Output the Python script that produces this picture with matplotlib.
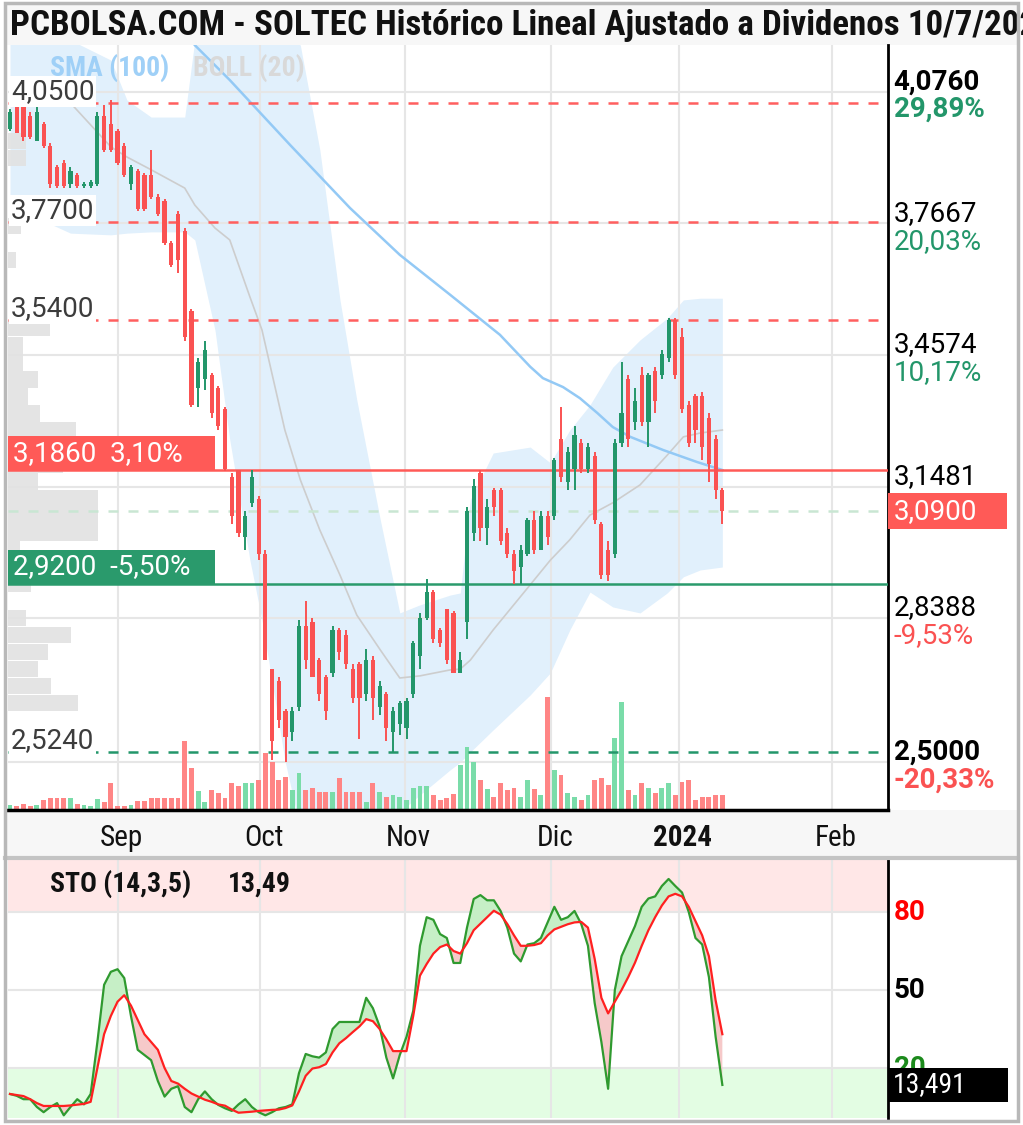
import matplotlib
matplotlib.use("Agg")
import matplotlib.pyplot as plt
from matplotlib import font_manager
from matplotlib.patches import Rectangle
import numpy as np

plt.rcParams['font.family'] = ['Roboto', 'DejaVu Sans']

# fuente estrecha (si la hay) para titulo, meses y STO
instaladas = {f.name for f in font_manager.fontManager.ttflist}
NARROW = [n for n in ['Roboto Condensed', 'Liberation Sans Narrow'] if n in instaladas] + ['Roboto', 'DejaVu Sans']

# ---------------- datos (indice = sesion) ----------------
opens = [3.99, 4.04, 4.04, 4.02, 3.96, 4.00, 3.95, 3.90, 3.91, 3.86,
         3.88, 3.855, 3.855, 3.86, 4.02, 4.00, 3.985, 3.95, 3.86, 3.89,
         3.88, 3.88, 3.83, 3.82, 3.72, 3.79, 3.75, 3.56, 3.38, 3.40,
         3.41, 3.38, 3.33, 3.17, 3.186, 3.03, 3.11, 3.12, 2.99, 2.72,
         2.69, 2.62, 2.57, 2.63, 2.82, 2.83, 2.74, 2.70, 2.71, 2.81,
         2.80, 2.72, 2.73, 2.66, 2.74, 2.63, 2.66, 2.57, 2.59, 2.58,
         2.66, 2.75, 2.84, 2.90, 2.81, 2.86, 2.85, 2.71, 2.83, 3.04,
         3.18, 3.05, 3.14, 3.14, 3.04, 2.99, 2.96, 2.99, 3.07, 3.00,
         3.08, 3.08, 3.26, 3.16, 3.19, 3.25, 3.19, 3.22, 3.06, 3.00,
         2.99, 3.25, 3.40, 3.30, 3.41, 3.30, 3.42, 3.41, 3.45, 3.54,
         3.50, 3.34, 3.36, 3.36, 3.31, 3.26, 3.14]
highs = [4.035, 4.045, 4.045, 4.03, 4.04, 4.005, 3.955, 3.905, 3.915, 3.90,
         3.885, 3.865, 3.87, 4.03, 4.045, 4.057, 3.99, 3.955, 3.905, 3.895,
         3.885, 3.94, 3.835, 3.825, 3.725, 3.795, 3.755, 3.565, 3.45, 3.49,
         3.415, 3.385, 3.335, 3.18, 3.186, 3.09, 3.186, 3.125, 3.00, 2.72,
         2.70, 2.625, 2.63, 2.835, 2.88, 2.84, 2.745, 2.705, 2.82, 2.815,
         2.81, 2.73, 2.735, 2.765, 2.75, 2.69, 2.665, 2.63, 2.645, 2.65,
         2.785, 2.85, 2.93, 2.905, 2.815, 2.86, 2.855, 2.76, 3.10, 3.165,
         3.186, 3.12, 3.145, 3.145, 3.05, 3.00, 3.01, 3.075, 3.09, 3.09,
         3.09, 3.215, 3.335, 3.24, 3.29, 3.26, 3.25, 3.23, 3.065, 3.02,
         3.26, 3.44, 3.41, 3.38, 3.43, 3.415, 3.43, 3.47, 3.545, 3.545,
         3.52, 3.35, 3.365, 3.37, 3.32, 3.27, 3.145]
lows = [3.985, 3.98, 3.96, 3.965, 3.96, 3.945, 3.85, 3.85, 3.85, 3.85,
        3.85, 3.85, 3.85, 3.855, 3.935, 3.935, 3.905, 3.875, 3.845, 3.795,
        3.795, 3.825, 3.785, 3.715, 3.665, 3.65, 3.49, 3.335, 3.335, 3.375,
        3.31, 3.28, 3.185, 3.06, 3.03, 3.00, 3.10, 2.975, 2.74, 2.505,
        2.58, 2.50, 2.55, 2.62, 2.72, 2.70, 2.645, 2.60, 2.70, 2.74,
        2.72, 2.64, 2.555, 2.645, 2.60, 2.61, 2.55, 2.524, 2.565, 2.555,
        2.65, 2.72, 2.835, 2.78, 2.77, 2.73, 2.71, 2.71, 2.79, 3.02,
        3.02, 3.01, 3.08, 3.01, 2.98, 2.92, 2.92, 2.985, 2.99, 3.00,
        3.01, 3.07, 3.16, 3.14, 3.14, 3.18, 3.18, 3.06, 2.93, 2.925,
        2.98, 3.24, 3.24, 3.28, 3.29, 3.24, 3.32, 3.40, 3.44, 3.40,
        3.32, 3.24, 3.25, 3.21, 3.16, 3.12, 3.06]
closes = [4.03, 3.98, 3.97, 3.97, 4.03, 3.95, 3.86, 3.855, 3.855, 3.89,
          3.855, 3.86, 3.865, 4.02, 3.94, 3.94, 3.91, 3.88, 3.90, 3.80,
          3.80, 3.83, 3.79, 3.72, 3.67, 3.68, 3.50, 3.34, 3.44, 3.47,
          3.32, 3.29, 3.19, 3.08, 3.04, 3.08, 3.17, 2.99, 2.74, 2.55,
          2.60, 2.56, 2.62, 2.82, 2.74, 2.70, 2.66, 2.62, 2.81, 2.76,
          2.73, 2.65, 2.65, 2.74, 2.65, 2.68, 2.58, 2.62, 2.64, 2.645,
          2.78, 2.84, 2.90, 2.79, 2.78, 2.74, 2.71, 2.74, 3.09, 3.15,
          3.05, 3.10, 3.10, 3.02, 2.99, 2.95, 3.00, 3.07, 3.00, 3.08,
          3.03, 3.21, 3.17, 3.23, 3.27, 3.19, 3.24, 3.07, 2.94, 2.94,
          3.25, 3.32, 3.26, 3.35, 3.30, 3.41, 3.35, 3.46, 3.54, 3.41,
          3.33, 3.25, 3.28, 3.24, 3.20, 3.14, 3.09]
volumes = [5, 4, 6, 4, 5, 10, 12, 12, 12, 12, 6, 5, 4, 11, 8, 27, 4, 4, 5, 9,
           9, 12, 12, 12, 12, 12, 69, 42, 19, 8, 20, 17, 12, 27, 24, 27, 27, 30, 57, 48,
           30, 33, 20, 37, 20, 22, 18, 18, 18, 32, 18, 18, 18, 8, 27, 18, 13, 15, 13, 10,
           22, 24, 24, 15, 10, 12, 16, 45, 63, 48, 30, 21, 13, 27, 20, 22, 13, 30, 21, 15,
           113, 40, 35, 17, 13, 10, 15, 30, 32, 25, 72, 108, 20, 15, 27, 22, 17, 22, 27, 15,
           28, 30, 10, 13, 13, 15, 15]

# Bollinger (20) y SMA (100)
bb_idx = [0, 3, 9, 15, 17.4, 21, 26, 27.5, 30.5, 32.7, 35.7, 37.5, 40.9, 43.2, 46.1, 49.1, 51.6,
          55.1, 58, 61, 65.5, 67, 68.5, 71.9, 77.4, 80.4, 83.3, 86.3, 89.7, 93.75, 97.8, 100.2, 102.7, 106]
bb_up = [4.198, 4.198, 4.198, 4.151, 4.057, 4.017, 4.017, 4.198, 4.245, 4.269, 4.269, 4.245, 4.222,
         4.186, 3.940, 3.587, 3.352, 3.070, 2.851, 2.870, 2.893, 2.898, 3.117, 3.227, 3.241, 3.204,
         3.281, 3.340, 3.429, 3.493, 3.544, 3.587, 3.591, 3.591]
bb_mid = [4.064, 4.057, 4.050, 3.947, 3.923, 3.893, 3.850, 3.810, 3.756, 3.728, 3.594, 3.516, 3.281,
          3.164, 3.046, 2.940, 2.846, 2.764, 2.698, 2.703, 2.717, 2.719, 2.740, 2.811, 2.917, 2.975,
          3.023, 3.081, 3.110, 3.152, 3.222, 3.265, 3.274, 3.281]
bb_lo = [3.822, 3.787, 3.744, 3.740, 3.744, 3.747, 3.747, 3.728, 3.516, 3.258, 2.975, 2.834, 2.505,
         2.341, 2.223, 2.223, 2.270, 2.341, 2.383, 2.423, 2.482, 2.500, 2.524, 2.576, 2.658, 2.710,
         2.811, 2.900, 2.865, 2.851, 2.898, 2.936, 2.952, 2.959]
sma_idx = [23.8, 27.5, 32.7, 41.7, 50.6, 58, 65.5, 72.9, 77.4, 79.3, 82.3, 84.8, 87.4, 89.7, 92.3, 97.2, 102.2, 106]
sma_val = [4.269, 4.186, 4.104, 3.951, 3.803, 3.693, 3.599, 3.505, 3.430, 3.403, 3.382, 3.356, 3.321,
           3.288, 3.265, 3.234, 3.206, 3.187]

# perfil de volumen (precio, volumen relativo)
prof_price = [2.64, 2.68, 2.72, 2.76, 2.80, 2.84, 2.92, 3.00, 3.04, 3.08, 3.12, 3.16, 3.20, 3.24,
              3.28, 3.32, 3.36, 3.40, 3.44, 3.48, 3.52, 3.68, 3.76, 3.92, 3.96]
prof_vol = [70, 43, 30, 40, 63, 18, 23, 12, 90, 90, 90, 30, 55, 70, 68, 32, 20, 30, 15, 15, 42, 8, 13, 18, 18]

# estocastico (14,3,5)
sto_k = [10, 9.3, 8, 8, 5, 3, 5, 6.5, 1.8, 5, 8, 6, 10, 30, 52, 57, 58, 54.6, 40, 27,
         25, 23, 15, 9, 12, 13, 5, 3, 8, 11, 8, 5.8, 4.5, 3.5, 6, 8, 5, 3, 1.8, 3,
         4.5, 5, 6, 18, 25.4, 24.5, 24, 26, 35, 37.7, 37.7, 37.7, 37.7, 47, 43, 36, 24, 16, 25, 32,
         42, 67, 78, 77, 71.5, 70, 60.4, 60.4, 74, 85, 86.5, 84.5, 84.5, 80.4, 74, 64, 61, 67.5, 68, 70,
         76, 82, 77, 78, 80.4, 75.4, 67, 45, 30, 12, 50, 63, 68.8, 74.6, 82, 85.2, 86, 90, 92.7, 90,
         87.5, 80, 70, 67.5, 55, 32, 13.49]
sto_d = [10, 9.6, 9.2, 8, 6.5, 5.4, 5.4, 5.4, 5.4, 5.6, 5.9, 6.2, 7, 20, 33, 40, 45.5, 48, 44, 38.5,
         33, 30, 27, 20, 15, 14, 12, 10.2, 9, 7.8, 7, 6, 5.5, 4, 2.8, 3, 3.2, 3.5, 3.7, 3.9,
         4, 4.6, 5.6, 11, 17, 19.8, 20.3, 21.5, 26, 29.5, 31.5, 33.8, 36, 38.8, 38, 35, 31, 26.5, 26.5, 26.5,
         40, 55.5, 60, 64, 66.5, 67.5, 65, 64, 68, 73, 75.5, 78, 80.5, 79, 75.4, 71, 67, 67, 67.3, 68,
         71, 73.3, 74.3, 75.3, 76, 76.2, 74, 62, 47, 41, 45.5, 50, 55, 60.5, 67, 73, 78, 82.5, 86, 87,
         86, 82, 76.5, 71, 63, 46, 33]

month_pos = [16.07, 37.2, 58.78, 80.51, 99.55, 122.32]
month_lab = ['Sep', 'Oct', 'Nov', 'Dic', '2024', 'Feb']

grid_levels = [4.0760, 3.7667, 3.4574, 3.1481, 2.8388, 2.5000]
grid_text = ['4,0760', '3,7667', '3,4574', '3,1481', '2,8388', '2,5000']
grid_pct = ['29,89%', '20,03%', '10,17%', '0,32%', '-9,53%', '-20,33%']
grid_bold = [True, False, False, False, False, True]

res_levels = [4.05, 3.77, 3.54]
res_text = ['4,0500', '3,7700', '3,5400']
sup_level, sup_text = 2.524, '2,5240'
stop_hi, stop_hi_text = 3.186, '3,1860  3,10%'
stop_lo, stop_lo_text = 2.92, '2,9200  -5,50%'
last_price, last_text = 3.09, '3,0900'
sto_last_text = '13,491'

RED = '#fa5252'
GREEN = '#23966a'
W, H = 1023, 1125
X0, X1 = -0.3, 130.65
Y0, Y1 = 2.3876, 4.1864


def fx(px):
    return px / W


def fy(py):
    return 1 - py / H


fig = plt.figure(figsize=(W / 100, H / 100), dpi=100)
fig.patch.set_facecolor('white')

# bandas de fondo (titulo y eje de fechas), por debajo de los ejes
fig.patches.append(Rectangle((fx(5), fy(45)), fx(1018) - fx(5), 42 / H, transform=fig.transFigure,
                             fc='#f7f7f7', ec='none', zorder=-10))
fig.patches.append(Rectangle((fx(5), fy(857)), fx(1018) - fx(5), 47 / H, transform=fig.transFigure,
                             fc='#f7f7f7', ec='none', zorder=-10))

rect = [fx(8), fy(810), 880 / W, 765 / H]

# --- capa base: rejilla, Bollinger, SMA ---
ax = fig.add_axes(rect)
ax.set_xlim(X0, X1)
ax.set_ylim(Y0, Y1)
ax.set_xticks(month_pos)
ax.set_yticks(grid_levels)
ax.tick_params(length=0, labelleft=False, labelbottom=False)
ax.grid(color='#e6e6e6', lw=1.5)
for s in ax.spines.values():
    s.set_visible(False)
ax.fill_between(bb_idx, bb_lo, bb_up, color='#e1f0fc', lw=0, zorder=1)
ax.plot(bb_idx, bb_mid, color='#cdcdcd', lw=1.2, zorder=2)
ax.plot(sma_idx, sma_val, color='#93c9f5', lw=1.8, zorder=2)

# --- volumen ---
axv = fig.add_axes(rect, sharex=ax)
axv.set_ylim(0, 765)
axv.axis('off')
o = np.array(opens)
c = np.array(closes)
idx = np.arange(len(c))
up = c >= o
axv.bar(idx, volumes, width=0.72, color=np.where(up, '#7adca9', '#ff8585'), lw=0)

# --- perfil de volumen ---
axp = fig.add_axes(rect, sharey=ax)
axp.set_xlim(0, 880)
axp.axis('off')
axp.barh(prof_price, prof_vol, height=0.038, left=0, color='#e2e2e2', alpha=0.9, lw=0)

# --- velas, niveles y etiquetas ---
axc = fig.add_axes(rect, sharex=ax, sharey=ax)
axc.patch.set_visible(False)
axc.tick_params(length=0, labelleft=False, labelbottom=False)
for k in ['top', 'left']:
    axc.spines[k].set_visible(False)
axc.spines['right'].set_linewidth(2)
axc.spines['bottom'].set_linewidth(2.5)

col = np.where(up, GREEN, RED)
axc.vlines(idx, lows, highs, colors=col, lw=1.4, zorder=4)
axc.bar(idx, np.maximum(np.abs(c - o), 0.004), bottom=np.minimum(o, c), width=0.62,
        color=col, lw=0, zorder=4)

for lv, tx in zip(res_levels, res_text):
    axc.axhline(lv, color='#ff5f5f', lw=1.8, ls=(0, (4, 4)), zorder=3)
    axc.annotate(tx, xy=(0, lv), xycoords=('axes fraction', 'data'), xytext=(2, 3),
                 textcoords='offset points', va='baseline', ha='left', fontsize=20, color='#3c3c3c',
                 bbox=dict(fc='white', ec='none', pad=1.5), zorder=5)
axc.axhline(sup_level, color='#23966a', lw=1.8, ls=(0, (4, 4)), zorder=3)
axc.annotate(sup_text, xy=(0, sup_level), xycoords=('axes fraction', 'data'), xytext=(2, 3),
             textcoords='offset points', va='baseline', ha='left', fontsize=20, color='#3c3c3c',
             bbox=dict(fc='white', ec='none', pad=1.5), zorder=5)
axc.axhline(last_price, color='#c9e6d3', lw=1.8, ls=(0, (4, 4)), zorder=3)

ytr = axc.get_yaxis_transform()
for lv, tx, fc in [(stop_hi, stop_hi_text, '#ff5a57'), (stop_lo, stop_lo_text, '#2a9a6c')]:
    axc.axhline(lv, color=fc, lw=1.8, zorder=3)
    axc.add_patch(Rectangle((0, lv), 207 / 880, 34 / 425.3, transform=ytr, fc=fc, ec='none', zorder=5))
    axc.text(5 / 880, lv + 17 / 425.3, tx, transform=ytr, va='center', ha='left', fontsize=20,
             color='white', zorder=6)

# eje derecho
for lv, tx, pc, bd in zip(grid_levels, grid_text, grid_pct, grid_bold):
    w = 'bold' if bd else 'normal'
    axc.annotate(tx, xy=(1, lv), xycoords=('axes fraction', 'data'), xytext=(4, 2),
                 textcoords='offset points', va='baseline', ha='left', fontsize=20, color='black',
                 fontweight=w, annotation_clip=False)
    axc.annotate(pc, xy=(1, lv), xycoords=('axes fraction', 'data'), xytext=(4, -3),
                 textcoords='offset points', va='top', ha='left', fontsize=20,
                 color=GREEN if not pc.startswith('-') else RED, fontweight=w, annotation_clip=False)
axc.add_patch(Rectangle((1.0, last_price - 18 / 425.3), 119 / 880, 36 / 425.3, transform=ytr,
                        fc='#ff5a57', ec='none', clip_on=False, zorder=6))
axc.text(1 + 6 / 880, last_price, last_text, transform=ytr, va='center', ha='left', fontsize=20,
         color='white', zorder=7, clip_on=False)

# meses
xtr = axc.get_xaxis_transform()
for p, m in zip(month_pos, month_lab):
    axc.text(p + 0.55, -28 / 765, m, transform=xtr, ha='center', va='center', fontsize=21,
             family=NARROW, fontweight='bold' if m == '2024' else 'normal', color='#111111',
             clip_on=False)

# --- estocastico ---
axs = fig.add_axes([fx(8), fy(1118), 880 / W, 260 / H])
axs.set_xlim(X0, X1)
axs.set_ylim(0.77, 100.77)
axs.set_axisbelow(True)
axs.axhspan(80, 101, color='#ffe7e7', lw=0, zorder=0)
axs.axhspan(0, 20, color='#e3fde3', lw=0, zorder=0)
axs.set_xticks(month_pos)
axs.set_yticks([20, 50, 80])
axs.tick_params(length=0, labelleft=False, labelbottom=False)
axs.grid(color='#e6e6e6', lw=1.5)
for k in ['top', 'left', 'bottom']:
    axs.spines[k].set_visible(False)
axs.spines['right'].set_linewidth(2)
kk = np.array(sto_k)
dd = np.array(sto_d)
ii = np.arange(len(kk))
axs.fill_between(ii, kk, dd, where=kk >= dd, interpolate=True, color='#c6efc6', lw=0)
axs.fill_between(ii, kk, dd, where=kk < dd, interpolate=True, color='#f6c9c9', lw=0)
axs.plot(ii, kk, color='#2f9a2f', lw=1.6)
axs.plot(ii, dd, color='#ff2020', lw=1.6)
for v, cl in [(80, '#ff0000'), (50, 'black'), (20, '#1c8a1c')]:
    axs.annotate(str(v), xy=(1, v), xycoords=('axes fraction', 'data'), xytext=(4, 0),
                 textcoords='offset points', va='center', ha='left', fontsize=20, fontweight='bold',
                 color=cl, annotation_clip=False)
str_ = axs.get_yaxis_transform()
axs.add_patch(Rectangle((1.0, 6.9), 120 / 880, 13.1, transform=str_, fc='black', ec='none',
                        clip_on=False, zorder=6))
axs.text(1 + 5 / 880, 13.49, sto_last_text, transform=str_, va='center', ha='left', fontsize=20,
         family=NARROW, color='white', zorder=7, clip_on=False)

# textos de cabecera
fig.text(fx(50), fy(884), 'STO (14,3,5)', va='center', ha='left', fontsize=20, fontweight='bold',
         family=NARROW, color='#111111')
fig.text(fx(228), fy(884), '13,49', va='center', ha='left', fontsize=20, fontweight='bold',
         family=NARROW, color='#111111')
fig.text(fx(50), fy(68), 'SMA (100)', va='center', ha='left', fontsize=20, fontweight='bold',
         family=NARROW, color='#9fd0f7')
fig.text(fx(193), fy(68), 'BOLL (20)', va='center', ha='left', fontsize=20, fontweight='bold',
         family=NARROW, color='#d9d9d9')

title = 'PCBOLSA.COM - SOLTEC Histórico Lineal Ajustado a Dividenos 10/7/2024'
t = fig.text(fx(10), fy(26), title[:-1], va='center', ha='left', fontsize=24, fontweight='bold',
             family=NARROW, color='#111111')
fig.canvas.draw()
wpx = t.get_window_extent().width
t.set_fontsize(24 * 1028 / wpx)
t.set_text(title)

# separadores y marco
fig.add_artist(plt.Line2D([fx(5), fx(1018)], [fy(858), fy(858)], color='#c4c4c4', lw=3))
fig.patches.append(Rectangle((fx(5), fy(1121)), fx(1018) - fx(5), (1121 - 3) / H, transform=fig.transFigure,
                             fill=False, ec='#b8b8b8', lw=2.5, zorder=10))

fig.savefig('out.png', dpi=100)
